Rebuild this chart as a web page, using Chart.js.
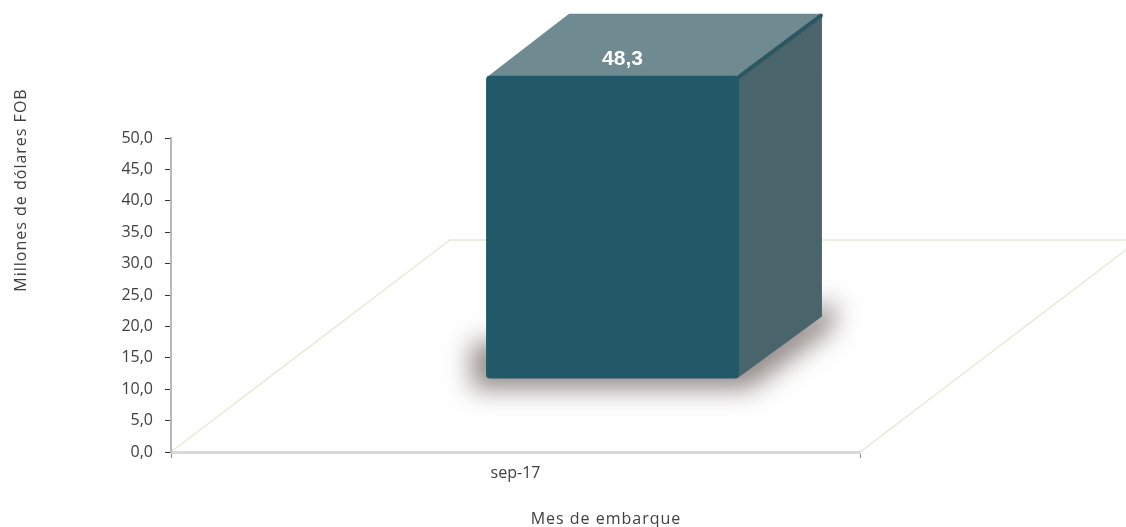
<!DOCTYPE html>
<html>
<head>
<meta charset="utf-8">
<script src="https://cdn.jsdelivr.net/npm/chart.js@4"></script>
<style>
  body { margin: 0; background: #fff; }
  #wrap { width: 1126px; height: 527px; position: relative; }
</style>
</head>
<body>
<div id="wrap"><canvas id="myChart"></canvas></div>
<script>
const categories = ["sep-17"];
const values = [48.3];
const yMin = 0;
const yMax = 50;
const yStep = 5;
const yTitle = "Millones de dólares FOB";
const xTitle = "Mes de embarque";

const fmt = v => v.toFixed(1).replace(".", ",");

// fake 3D: floor depth, bar placement inside the floor and bar depth
const floorDepth = { dx: 279, dy: -212 };
const barShift = { dx: 97, dy: -73 };
const barDepth = { dx: 83, dy: -62 };

const cube = {
  id: "cube",
  beforeDraw(chart) {
    const { ctx } = chart;
    const x = chart.scales.x;
    const y0 = chart.scales.y.getPixelForValue(0);
    ctx.save();
    ctx.beginPath();
    ctx.moveTo(x.left, y0);
    ctx.lineTo(x.right, y0);
    ctx.lineTo(x.right + floorDepth.dx, y0 + floorDepth.dy);
    ctx.lineTo(x.left + floorDepth.dx, y0 + floorDepth.dy);
    ctx.closePath();
    ctx.fillStyle = "#ffffff";
    ctx.fill();
    ctx.strokeStyle = "#e4ebd5";
    ctx.lineWidth = 1.5;
    ctx.stroke();
    ctx.restore();

    // titles
    ctx.save();
    ctx.fillStyle = "#404040";
    ctx.font = "16px 'Open Sans'";
    ctx.letterSpacing = "1px";
    ctx.textAlign = "center";
    ctx.textBaseline = "middle";
    ctx.fillText(xTitle, 606, 519);
    ctx.translate(21, 190);
    ctx.rotate(-Math.PI / 2);
    ctx.fillText(yTitle, 0, 0);
    ctx.restore();
  },
  beforeDatasetDraw(chart, args) {
    const { ctx } = chart;
    const meta = chart.getDatasetMeta(args.index);
    ctx.save();
    meta.data.forEach(bar => {
      const l = bar.x - bar.width / 2 + barShift.dx;
      const r = bar.x + bar.width / 2 + barShift.dx;
      const t = bar.y + barShift.dy;
      const b = bar.base + barShift.dy;
      const bx = barDepth.dx, by = barDepth.dy;
      // soft shadow on the floor (shape drawn off-canvas, only its shadow lands)
      const off = 3000;
      ctx.save();
      ctx.shadowColor = "rgba(70,55,50,0.6)";
      ctx.shadowBlur = 26;
      ctx.shadowOffsetX = off;
      ctx.shadowOffsetY = 4;
      ctx.fillStyle = "#000";
      ctx.beginPath();
      ctx.moveTo(l - 14 - off, b - 40);
      ctx.lineTo(r - off, b - 40);
      ctx.lineTo(r + bx + 12 - off, b + by - 20);
      ctx.lineTo(r + bx + 12 - off, b + by + 6);
      ctx.lineTo(r + 10 - off, b + 6);
      ctx.lineTo(l - 14 - off, b + 6);
      ctx.closePath();
      ctx.fill();
      ctx.restore();
      // side face
      ctx.fillStyle = "#4a646b";
      ctx.beginPath();
      ctx.moveTo(r - 2, t + 1);
      ctx.lineTo(r + bx, t + by + 1);
      ctx.lineTo(r + bx, b + by);
      ctx.lineTo(r - 2, b);
      ctx.closePath();
      ctx.fill();
      // top face
      ctx.fillStyle = "#6f8a90";
      ctx.beginPath();
      ctx.moveTo(l, t + 2);
      ctx.lineTo(l + bx, t + by);
      ctx.lineTo(r + bx - 1, t + by);
      ctx.lineTo(r - 1, t + 2);
      ctx.closePath();
      ctx.fill();
      // rounded front-top-right edge
      ctx.strokeStyle = "#2c5762";
      ctx.lineWidth = 4;
      ctx.lineCap = "round";
      ctx.beginPath();
      ctx.moveTo(r - 1, t + 2);
      ctx.lineTo(r + bx - 1, t + by + 2);
      ctx.stroke();
    });
    ctx.translate(barShift.dx, barShift.dy);
  },
  afterDatasetDraw(chart, args) {
    const { ctx } = chart;
    ctx.restore();
    const meta = chart.getDatasetMeta(args.index);
    ctx.save();
    ctx.fillStyle = "#ffffff";
    ctx.font = "bold 21px 'Liberation Sans'";
    ctx.textAlign = "center";
    ctx.textBaseline = "middle";
    meta.data.forEach((bar, i) => {
      ctx.fillText(fmt(values[i]), bar.x + barShift.dx + 10, bar.y + barShift.dy - 16);
    });
    ctx.restore();
  }
};

new Chart(document.getElementById("myChart"), {
  type: "bar",
  data: {
    labels: categories,
    datasets: [{
      data: values,
      backgroundColor: "#215968",
      borderRadius: 4,
      borderSkipped: false,
      barPercentage: 0.367,
      categoryPercentage: 1
    }]
  },
  options: {
    responsive: true,
    maintainAspectRatio: false,
    animation: false,
    layout: { padding: { top: 138, right: 266, left: 0, bottom: 0 } },
    plugins: { legend: { display: false }, tooltip: { enabled: false } },
    scales: {
      x: {
        afterFit(scale) { scale.height = 75; },
        grid: { drawOnChartArea: false, tickLength: 6, color: "#888" },
        border: { color: "#d9d9d9", width: 3 },
        ticks: { color: "#404040", font: { family: "Open Sans", size: 16 }, padding: 6 }
      },
      y: {
        min: yMin,
        max: yMax,
        afterFit(scale) { scale.width = 171; },
        grid: { drawOnChartArea: false, tickLength: 6, color: "#333" },
        border: { color: "#b8b8b8", width: 2 },
        ticks: {
          stepSize: yStep,
          color: "#404040",
          font: { family: "Open Sans", size: 16 },
          padding: 12,
          callback: v => fmt(v)
        }
      }
    }
  },
  plugins: [cube]
});
</script>
</body>
</html>
